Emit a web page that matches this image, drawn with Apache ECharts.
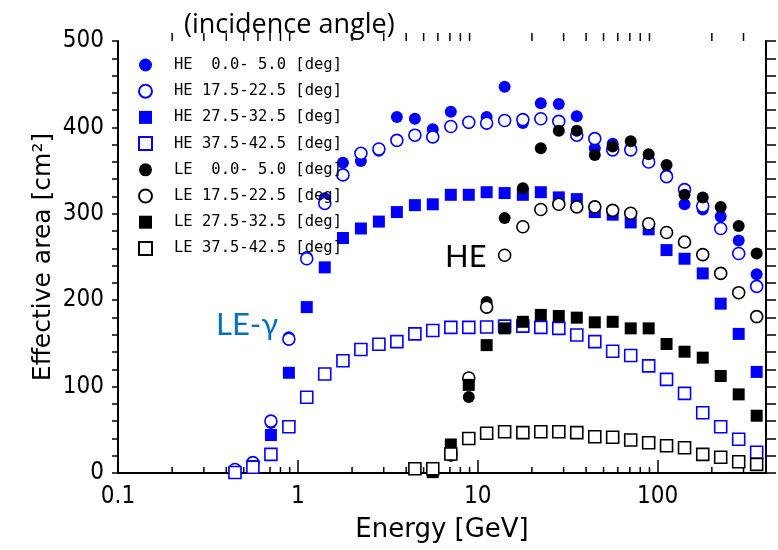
<!DOCTYPE html>
<html><head><meta charset="utf-8">
<script src="https://cdn.jsdelivr.net/npm/echarts@6/dist/echarts.min.js"></script>
<style>html,body{margin:0;padding:0;background:#fff}#c{width:778px;height:550px}</style>
</head><body><div id="c"></div>
<script>
// Energy bin centres [GeV]
const energies = [0.447, 0.562, 0.708, 0.891, 1.12, 1.41, 1.78, 2.24, 2.82, 3.55,
  4.47, 5.62, 7.08, 8.91, 11.2, 14.1, 17.8, 22.4, 28.2, 35.5,
  44.7, 56.2, 70.8, 89.1, 112, 141, 178, 224, 282, 355];

// Effective area [cm^2]
const he_0_5   = [3, 10, 58, 157, 250, 318, 359, 361, 373, 412, 410, 398, 418, 405, 412, 447, 405, 428, 427, 413, 376, 381, 376, 362, 345, 311, 305, 297, 269, 230];
const he_175   = [4, 12, 60, 155, 248, 312, 345, 370, 375, 385, 391, 389, 401, 406, 405, 408, 409, 410, 407, 391, 387, 374, 374, 360, 343, 328, 309, 283, 254, 216];
const he_275   = [1, 8, 44, 116, 192, 238, 272, 283, 291, 302, 310, 311, 322, 322, 325, 324, 322, 325, 319, 317, 302, 299, 290, 282, 258, 248, 231, 196, 161, 117];
const he_375   = [0.5, 6.6, 21.6, 53.6, 87.6, 114.6, 130, 143, 149, 152, 161, 165, 168.6, 168.6, 169, 170, 170, 168.6, 167.4, 159.7, 152, 141, 136, 124, 108.4, 92.2, 69.8, 53.6, 39, 24];
const le_0_5   = [null, null, null, null, null, null, null, null, null, null, null, null, 20, 88, 198, 295, 329.5, 376, 396, 396, 368, 378, 384, 369, 356.5, 322, 319, 308, 286, 254];
const le_175   = [null, null, null, null, null, null, null, null, null, null, null, null, 23, 110, 192, 252, 285, 305, 311, 308, 308, 304, 300.6, 288.5, 278.3, 267.3, 252.8, 231, 208.7, 181];
const le_275   = [null, null, null, null, null, null, null, null, null, null, null, 1, 33, 102, 148, 167.4, 175, 183, 181.7, 179.8, 174.4, 175, 167.4, 167.4, 149.3, 140.4, 133.5, 112.3, 91, 66.3];
const le_375   = [null, null, null, null, null, null, null, null, null, null, 5, 5, 22, 40, 46, 47.8, 46.7, 47.8, 47.8, 46.7, 42, 41.3, 38.2, 35, 31.6, 29.3, 21.6, 18.2, 13.1, 10];

const seriesNames = [
  'HE  0.0- 5.0 [deg]', 'HE 17.5-22.5 [deg]', 'HE 27.5-32.5 [deg]', 'HE 37.5-42.5 [deg]',
  'LE  0.0- 5.0 [deg]', 'LE 17.5-22.5 [deg]', 'LE 27.5-32.5 [deg]', 'LE 37.5-42.5 [deg]'
];
const xMinorTicks = [0.2, 0.3, 0.4, 0.5, 0.6, 0.7, 0.8, 0.9, 2, 3, 4, 5, 6, 7, 8, 9,
  20, 30, 40, 50, 60, 70, 80, 90, 200, 300];
const xTickLabels = ['0.1', '1', '10', '100'];

const BLUE = '#0000ff', BLACK = '#000000';
function mk(name, ys, symbol, filled, color, size) {
  const data = [];
  energies.forEach((e, i) => { if (ys[i] != null) data.push([e, ys[i]]); });
  return {
    name, type: 'scatter', symbol, symbolSize: size, data, clip: false,
    itemStyle: filled ? { color: color, opacity: 1 } : { color: '#ffffff', borderColor: color, borderWidth: 1.6, opacity: 1 },
    emphasis: { disabled: true }
  };
}

const chart = echarts.init(document.getElementById('c'), null, { renderer: 'canvas' });
const axisFont = { fontFamily: 'DejaVu Sans Condensed, DejaVu Sans', fontSize: 24, color: '#000' };
const option = {
  animation: false,
  backgroundColor: '#fff',
  grid: { left: 118, right: 12, top: 41, bottom: 77, containLabel: false },
  xAxis: [
    { type: 'log', logBase: 10, min: 0.1, max: 400, position: 'bottom',
      name: 'Energy [GeV]', nameLocation: 'middle', nameGap: 44,
      nameTextStyle: { fontFamily: 'DejaVu Sans', fontSize: 26, color: '#000' },
      axisLine: { lineStyle: { color: '#000', width: 2 } },
      axisTick: { inside: true, length: 9, lineStyle: { color: '#000', width: 1.5 } },
      axisLabel: Object.assign({ margin: 12, showMaxLabel: false,
        formatter: v => { const s = String(+(+v).toPrecision(3)); return xTickLabels.includes(s) ? s : ''; } }, axisFont),
      splitLine: { show: false } },
    { type: 'log', logBase: 10, min: 0.1, max: 400, position: 'top',
      axisLine: { lineStyle: { color: '#000', width: 2 } },
      axisTick: { inside: false, length: 13, lineStyle: { color: '#000', width: 1.5 } },
      axisLabel: { show: false }, splitLine: { show: false } }
  ],
  yAxis: [
    { type: 'value', min: 0, max: 500, interval: 100, position: 'left',
      name: 'Effective area [cm²]', nameLocation: 'middle', nameGap: 62, nameMoveOverlap: false,
      nameTextStyle: { fontFamily: 'DejaVu Sans', fontSize: 25, color: '#000' },
      axisLine: { show: true, lineStyle: { color: '#000', width: 2 } },
      axisTick: { show: true, inside: false, length: 6, lineStyle: { color: '#000', width: 1.5 } },
      minorTick: { show: true, splitNumber: 5, length: 6, lineStyle: { color: '#000', width: 1.5 } },
      axisLabel: Object.assign({ margin: 14 }, axisFont),
      splitLine: { show: false } },
    { type: 'value', min: 0, max: 500, interval: 100, position: 'right',
      axisLine: { show: true, lineStyle: { color: '#000', width: 2 } },
      axisTick: { show: true, inside: false, length: 10, lineStyle: { color: '#000', width: 1.5 } },
      minorTick: { show: true, splitNumber: 5, length: 10, lineStyle: { color: '#000', width: 1.5 } },
      axisLabel: { show: false }, splitLine: { show: false } }
  ],
  legend: {
    data: seriesNames, orient: 'vertical', left: 133, top: 52,
    itemWidth: 13, itemHeight: 13, itemGap: 10.2,
    textStyle: { fontFamily: 'DejaVu Sans Mono', fontSize: 15.5, color: '#000', padding: [0, 0, 0, 17] },
    selectedMode: false
  },
  graphic: [
    { type: 'text', left: 184, top: 12, silent: true,
      style: { text: '(incidence angle)', fontFamily: 'Open Sans', fontSize: 27, fill: '#000' } },
    { type: 'text', left: 216, top: 309, silent: true,
      style: { text: 'LE-γ', fontFamily: 'Lato', fontSize: 31, fill: '#0070c0' } },
    { type: 'text', left: 445, top: 241, silent: true,
      style: { text: 'HE', fontFamily: 'Lato', fontSize: 31, fill: '#000' } }
  ],
  series: [
    mk(seriesNames[0], he_0_5, 'circle', true, BLUE, 12),
    mk(seriesNames[1], he_175, 'circle', false, BLUE, 12),
    mk(seriesNames[2], he_275, 'rect', true, BLUE, 12),
    mk(seriesNames[3], he_375, 'rect', false, BLUE, 12),
    mk(seriesNames[4], le_0_5, 'circle', true, BLACK, 12),
    mk(seriesNames[5], le_175, 'circle', false, BLACK, 12),
    mk(seriesNames[6], le_275, 'rect', true, BLACK, 12),
    mk(seriesNames[7], le_375, 'rect', false, BLACK, 12),
    { name: 'minorTicks', type: 'custom', silent: true, clip: false,
      data: xMinorTicks.map(v => [v, 0]),
      renderItem: (params, api) => {
        const v = api.value(0);
        const b = api.coord([v, 0]);
        const t = api.coord([v, 500]);
        return { type: 'group', children: [
          { type: 'line', shape: { x1: b[0], y1: b[1], x2: b[0], y2: b[1] - 6 }, style: { stroke: '#000', lineWidth: 1.5 } },
          { type: 'line', shape: { x1: t[0], y1: t[1], x2: t[0], y2: t[1] - 8 }, style: { stroke: '#000', lineWidth: 1.5 } }
        ] };
      } }
  ]
};
chart.setOption(option);
</script>
</body></html>
